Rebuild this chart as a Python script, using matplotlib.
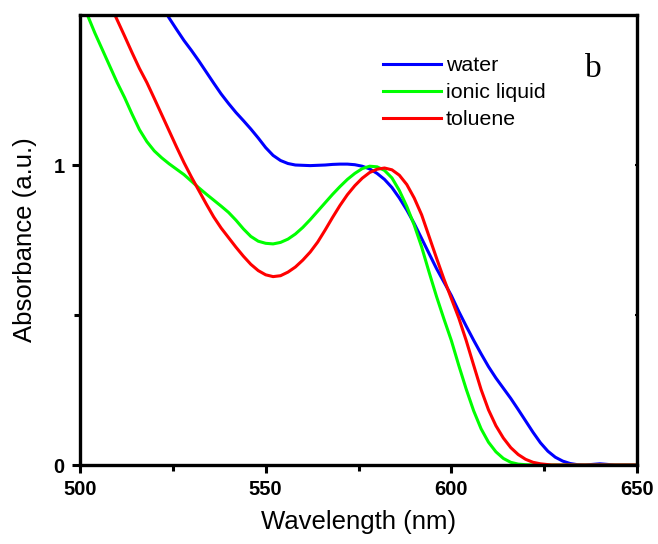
import numpy as np
import matplotlib
matplotlib.use("Agg")
import matplotlib.pyplot as plt
from matplotlib.ticker import MultipleLocator, FixedLocator

# Normalised absorption spectra in three solvents
water_wl = [518, 520, 522, 524, 526, 528, 530, 532, 534, 536, 538, 540, 542,
            544, 546, 548, 550, 552, 554, 556, 558, 560, 562, 564, 566, 568,
            570, 572, 574, 576, 578, 580, 582, 584, 586, 588, 590, 592, 594,
            596, 598, 600, 602, 604, 606, 608, 610, 612, 614, 616, 618, 620,
            622, 624, 626, 628, 630, 632, 634, 636, 638, 640, 642, 644, 650]
water_abs = [1.61, 1.57, 1.53, 1.49, 1.452, 1.415, 1.382, 1.347, 1.31, 1.273,
             1.237, 1.205, 1.175, 1.148, 1.12, 1.09, 1.058, 1.032, 1.015,
             1.005, 1.0, 0.999, 0.998, 0.999, 1.0, 1.002, 1.003, 1.003, 1.001,
             0.996, 0.987, 0.972, 0.952, 0.925, 0.89, 0.85, 0.805, 0.755,
             0.705, 0.655, 0.61, 0.565, 0.512, 0.463, 0.416, 0.371, 0.328,
             0.29, 0.256, 0.222, 0.185, 0.147, 0.109, 0.074, 0.046, 0.026,
             0.013, 0.005, 0.001, 0.0, 0.002, 0.004, 0.002, 0.0, 0.0]

ionic_wl = [500, 502, 504, 506, 508, 510, 512, 514, 516, 518, 520, 522, 524,
            526, 528, 530, 532, 534, 536, 538, 540, 542, 544, 546, 548, 550,
            552, 554, 556, 558, 560, 562, 564, 566, 568, 570, 572, 574, 576,
            578, 580, 582, 584, 586, 588, 590, 592, 594, 596, 598, 600, 602,
            604, 606, 608, 610, 612, 614, 616, 618, 620, 623, 650]
ionic_abs = [1.56, 1.5, 1.44, 1.385, 1.33, 1.275, 1.225, 1.17, 1.118, 1.078,
             1.047, 1.024, 1.004, 0.986, 0.968, 0.946, 0.924, 0.903, 0.883,
             0.863, 0.842, 0.816, 0.787, 0.762, 0.746, 0.739, 0.737, 0.742,
             0.753, 0.77, 0.792, 0.818, 0.846, 0.874, 0.902, 0.928, 0.952,
             0.972, 0.988, 0.996, 0.994, 0.982, 0.957, 0.915, 0.862, 0.80,
             0.727, 0.643, 0.562, 0.487, 0.415, 0.332, 0.253, 0.181, 0.121,
             0.076, 0.044, 0.022, 0.009, 0.003, 0.001, 0.0, 0.0]

toluene_wl = [507, 509.4, 512, 514, 516, 518, 520, 522, 524, 526, 528, 530,
              532, 534, 536, 538, 540, 542, 544, 546, 548, 550, 552, 554, 556,
              558, 560, 562, 564, 566, 568, 570, 572, 574, 576, 578, 580, 582,
              584, 586, 588, 590, 592, 594, 596, 598, 600, 602, 604, 606, 608,
              610, 612, 614, 616, 618, 620, 622, 624, 627, 650]
toluene_abs = [1.57, 1.5, 1.43, 1.375, 1.322, 1.275, 1.222, 1.168, 1.114,
               1.06, 1.008, 0.96, 0.915, 0.87, 0.827, 0.79, 0.758, 0.726,
               0.696, 0.669, 0.648, 0.634, 0.628, 0.631, 0.643, 0.66, 0.683,
               0.71, 0.743, 0.783, 0.825, 0.865, 0.901, 0.931, 0.956, 0.975,
               0.986, 0.99, 0.984, 0.966, 0.935, 0.89, 0.834, 0.762, 0.69, 0.62,
               0.555, 0.49, 0.415, 0.333, 0.252, 0.184, 0.131, 0.09, 0.058,
               0.035, 0.019, 0.009, 0.004, 0.0, 0.0]

series = [
    ("water", water_wl, water_abs, "#0000ff"),
    ("ionic liquid", ionic_wl, ionic_abs, "#00ff00"),
    ("toluene", toluene_wl, toluene_abs, "#ff0000"),
]

x_ticks = [500, 550, 600, 650]
y_ticks = [0, 1]

plt.rcParams["font.family"] = ["Liberation Sans", "DejaVu Sans"]

fig = plt.figure(figsize=(6.58, 5.44), dpi=100)
ax = fig.add_axes([0.1216, 0.1452, 0.8465, 0.8272])

for label, wl, ab, color in series:
    ax.plot(wl, ab, color=color, lw=2.2, label=label,
            solid_joinstyle="round")

ax.set_xlim(500, 650)
ax.set_ylim(0, 1.5)

ax.xaxis.set_major_locator(FixedLocator(x_ticks))
ax.xaxis.set_minor_locator(MultipleLocator(25))
ax.yaxis.set_major_locator(FixedLocator(y_ticks))
ax.yaxis.set_minor_locator(FixedLocator([0.5]))
ax.set_yticklabels(["0", "1"])

for side in ax.spines.values():
    side.set_linewidth(2.4)

ax.tick_params(which="major", direction="out", length=6, width=2.2,
               labelsize=14.5)
ax.tick_params(axis="x", which="major", pad=5)
ax.tick_params(axis="y", which="major", pad=5)
ax.tick_params(which="minor", direction="out", length=4, width=2.2)
for lab in ax.get_xticklabels() + ax.get_yticklabels():
    lab.set_fontweight("bold")

# Tiny inward marks on the top and right spines
sec_x = ax.secondary_xaxis("top")
sec_x.xaxis.set_major_locator(MultipleLocator(25))
sec_x.tick_params(direction="in", length=1.5, width=1.5, labeltop=False)
sec_x.spines["top"].set_visible(False)
sec_y = ax.secondary_yaxis("right")
sec_y.yaxis.set_major_locator(FixedLocator([0.5, 1.0]))
sec_y.tick_params(direction="in", length=1.5, width=1.5, labelright=False)
sec_y.spines["right"].set_visible(False)

ax.set_xlabel("Wavelength (nm)", fontsize=18.5, labelpad=8)
ax.set_ylabel("Absorbance (a.u.)", fontsize=18.5, labelpad=12)

leg = ax.legend(loc="upper left", bbox_to_anchor=(0.544, 0.908), frameon=False,
                fontsize=15.4, handlelength=2.7, handletextpad=0.23,
                labelspacing=0.37, borderaxespad=0, borderpad=0)

ax.text(0.922, 0.88, "b", transform=ax.transAxes, fontsize=24,
        family=["Liberation Serif", "DejaVu Serif"], ha="center", va="center")

fig.savefig("out.png", dpi=100)
